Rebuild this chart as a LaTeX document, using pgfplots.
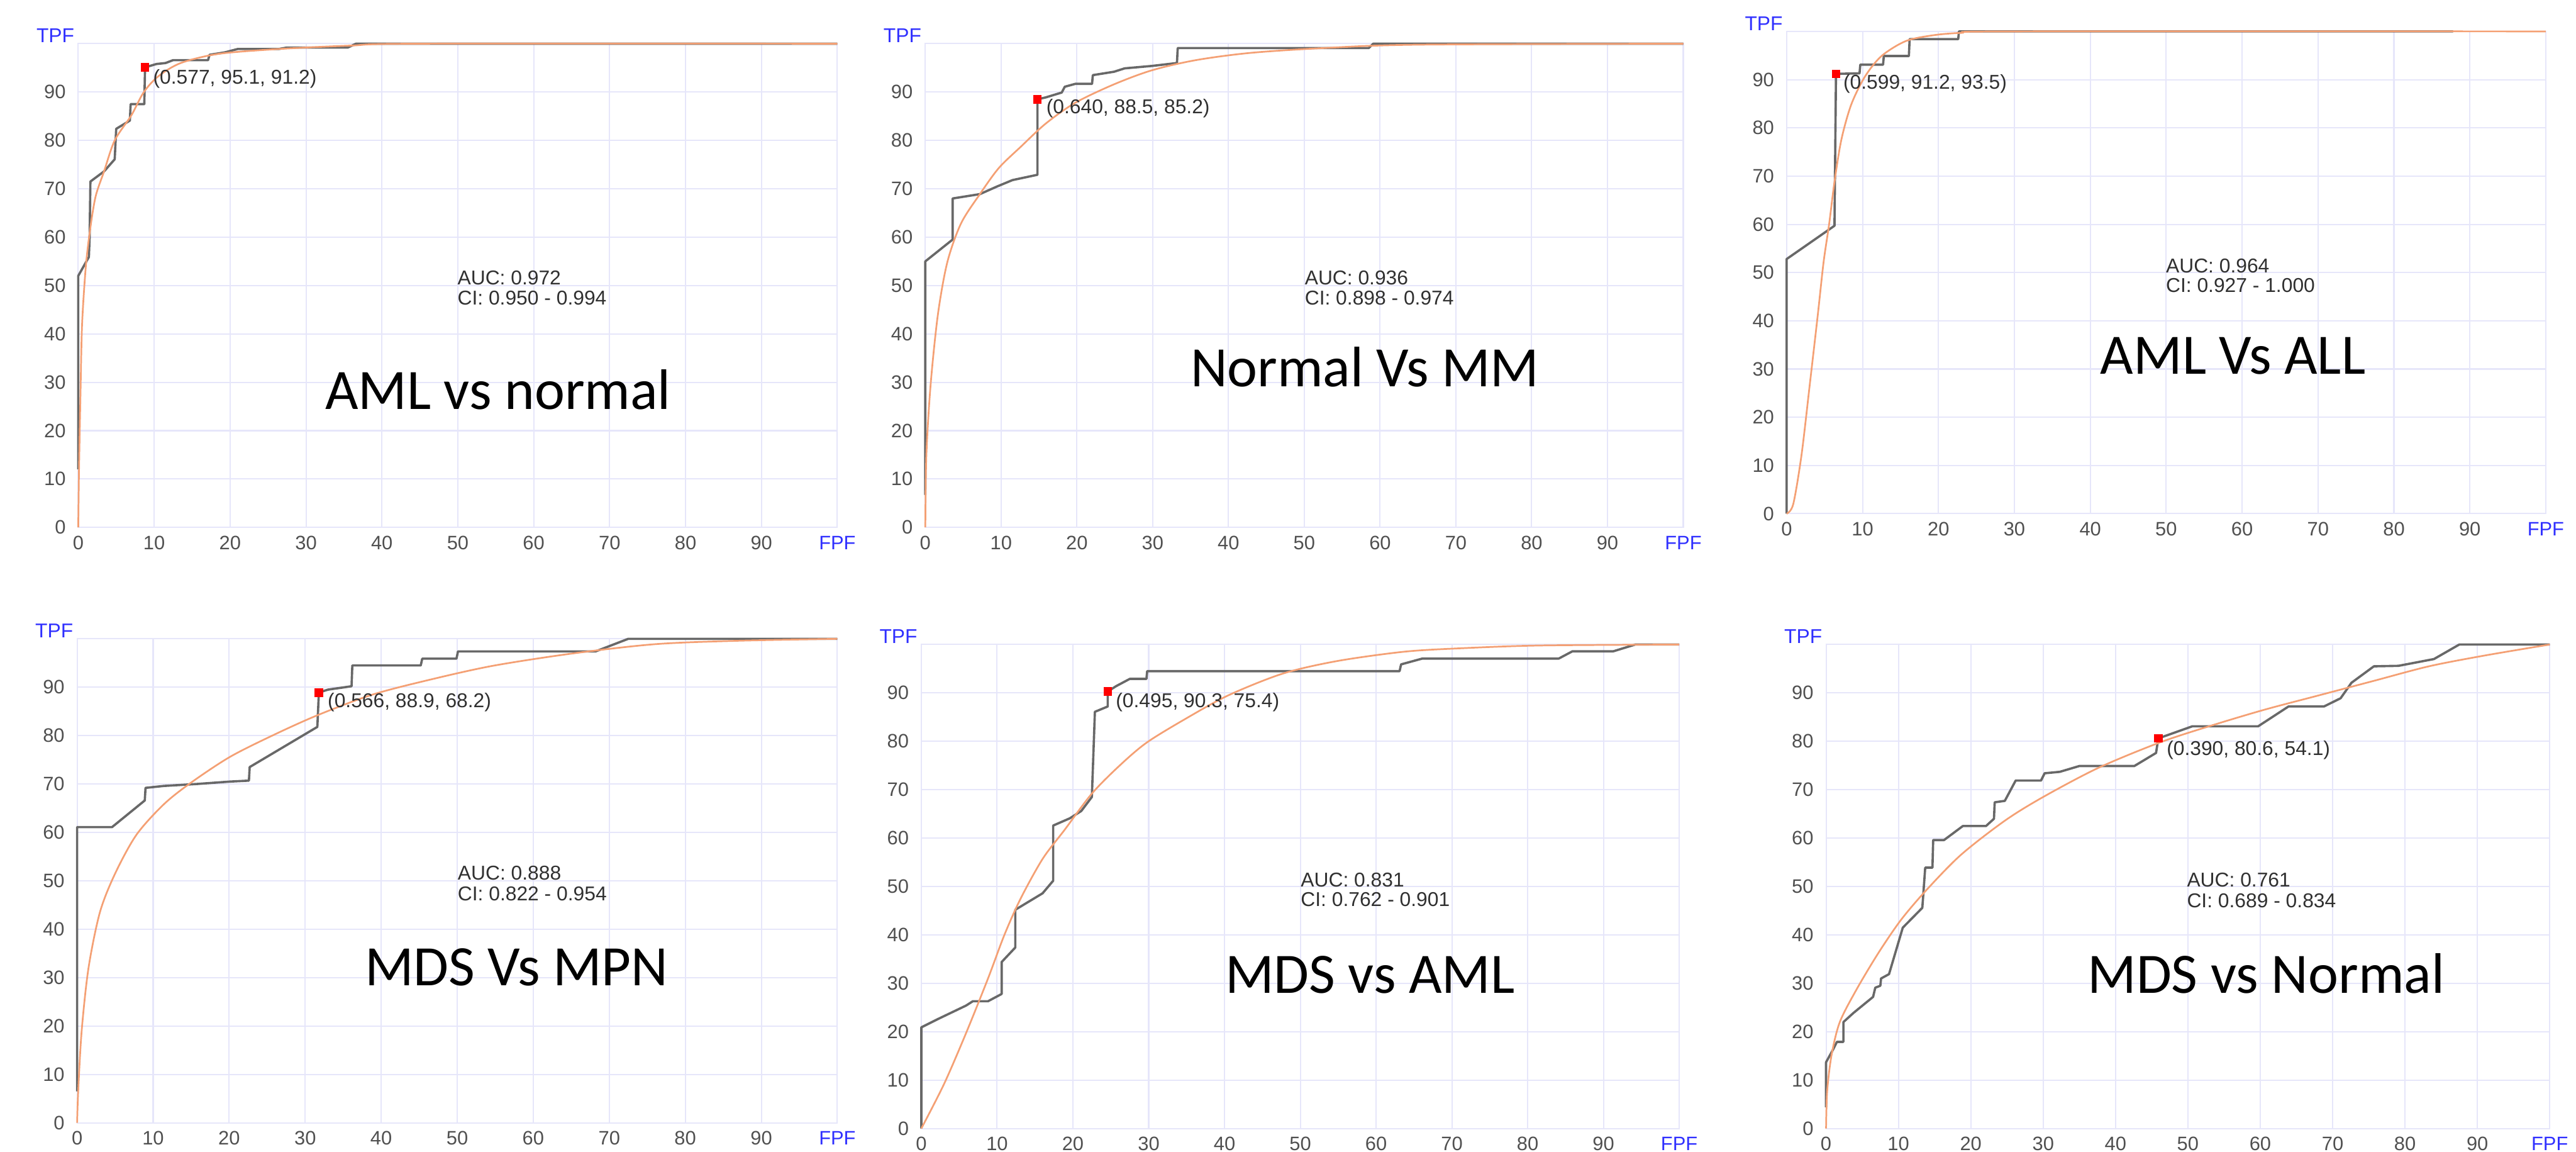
\documentclass[border=0pt]{standalone}
\usepackage{fontspec}
\setmainfont{Liberation Sans}
\newfontfamily\titlefont{Carlito}
\usepackage{pgfplots}
\pgfplotsset{compat=1.18}
\definecolor{gridc}{HTML}{E6E6FA}
\definecolor{rocgray}{HTML}{686868}
\definecolor{fitorange}{HTML}{F4A074}
\definecolor{tickgray}{HTML}{505050}
\definecolor{txtgray}{HTML}{303030}
\definecolor{axblue}{HTML}{3030FF}
\pgfplotsset{
  rocpanel/.style={
    scale only axis, anchor=south west,
    xmin=0, xmax=100, ymin=0, ymax=100,
    xtick={0,10,...,100}, ytick={0,10,...,90},
    xticklabels={0,10,20,30,40,50,60,70,80,90,\textcolor{axblue}{FPF}},
    grid=major, major grid style={draw=gridc, line width=0.45pt},
    axis line style={draw=gridc, line width=0.45pt},
    major tick length=0pt,
    tick label style={font=\fontsize{6.8}{7}\selectfont, text=tickgray, inner sep=0pt},
    xticklabel shift=2.8pt, yticklabel shift=4.2pt,
    /pgf/number format/assume math mode=true,
    clip=false,
  },
  gray roc/.style={rocgray, line width=0.8pt, line join=round},
  fit roc/.style={fitorange, line width=0.6pt, line join=round, smooth, tension=0.5},
  opt pt/.style={only marks, mark=square*, mark size=1.3pt, red, mark options={draw=red, fill=red}},
}
\newcommand{\tpf}{\node[anchor=base east, text=axblue, font=\fontsize{7}{8}\selectfont, inner sep=0pt] at ([xshift=-1.2pt, yshift=0.4pt]rel axis cs:0,1) {TPF};}
\newcommand{\ann}[3]{\node[anchor=west, text=txtgray, font=\fontsize{7}{8}\selectfont, inner sep=0pt] at (axis cs:#1,#2) {#3};}
\newcommand{\ttl}[3]{\node[anchor=base, font=\titlefont\fontsize{20}{24}\selectfont, inner sep=0pt] at (axis cs:#1,#2) {#3};}

\begin{document}
\begin{tikzpicture}
\useasboundingbox (0,0) rectangle (902pt,403.2pt);

% Panel 1: AML vs normal
\begin{axis}[rocpanel, at={(27.4pt,218.6pt)}, width=265.8pt, height=169.3pt]
\addplot[gray roc] coordinates {(0,12) (0,52) (1.4,55.9) (1.5,60) (1.6,71.5) (3.4,73.6) (4.8,76.1) (5.0,82.4) (6.8,84.1) (6.9,87.5) (8.7,87.5) (8.8,95.1) (10.3,95.8) (11.5,96.0) (12.5,96.6) (17.1,96.6) (17.3,97.7) (19.3,98.2) (21.0,98.9) (26.4,98.9) (27.5,99.2) (35.5,99.2) (36.6,100) (100,100)};
\addplot[fit roc] coordinates {(0,0) (0.1,12) (0.29,27.3) (0.5,41.8) (1.0,54) (1.6,62) (2.3,68.5) (3.4,73.6) (4.8,80) (7.0,85.2) (8.6,89.9) (10.5,93.2) (13.5,96.0) (18.5,97.9) (26.4,98.9) (35.8,99.6) (45,100) (100,100)};
\addplot[opt pt] coordinates {(8.8,95.1)};
\tpf
\ann{9.8}{92.8}{(0.577, 95.1, 91.2)}
\ann{49.9}{51.6}{AUC: 0.972}
\ann{49.9}{47.4}{CI: 0.950 - 0.994}
\ttl{55.3}{24.4}{AML vs normal}
\end{axis}

% Panel 2: Normal Vs MM
\begin{axis}[rocpanel, at={(324pt,218.6pt)}, width=265.4pt, height=169.3pt]
\addplot[gray roc] coordinates {(0,6.7) (0,55) (3.6,59.5) (3.6,68) (7.2,68.9) (9.5,70.5) (11.5,71.8) (14.8,72.9) (14.8,88.5) (15.9,88.9) (18,89.9) (18.4,91.1) (19.8,91.7) (22,91.7) (22.1,93.5) (24.9,94.2) (26.3,94.9) (29.9,95.4) (33.2,96) (33.3,99.1) (58.5,99.1) (59.1,100) (100,100)};
\addplot[fit roc] coordinates {(0,0) (0.14,15) (0.7,29.5) (1.66,44) (2.9,54.8) (4.7,62.8) (7.2,68.9) (9.7,74.3) (12.6,78.7) (15.9,83.5) (19.8,87.8) (24.9,91.6) (29.9,94.5) (35.7,96.6) (42.9,98.1) (52.6,99.1) (65.2,99.8) (100,100)};
\addplot[opt pt] coordinates {(14.8,88.5)};
\tpf
\ann{15.9}{86.6}{(0.640, 88.5, 85.2)}
\ann{50}{51.6}{AUC: 0.936}
\ann{50}{47.4}{CI: 0.898 - 0.974}
\ttl{58}{29.1}{Normal Vs MM}
\end{axis}

% Panel 3: AML Vs ALL
\begin{axis}[rocpanel, at={(625.6pt,223.4pt)}, width=265.8pt, height=168.8pt]
\addplot[gray roc] coordinates {(0,0) (0,52.8) (6.3,59.7) (6.5,91.2) (9.6,91.3) (9.7,93.1) (12.7,93.1) (12.8,94.9) (16.1,94.9) (16.2,98.4) (22.6,98.4) (22.7,100) (87.8,100)};
\addplot[fit roc] coordinates {(0,0) (0.87,2) (1.96,12.2) (3.04,26.7) (4.1,41.2) (4.86,52.1) (5.6,60.1) (6.3,68.8) (7.2,77.5) (8.5,84.8) (10.3,90.6) (12.5,94.9) (15.7,98.0) (19.3,99.2) (23,99.7) (30,100) (100,100)};
\addplot[opt pt] coordinates {(6.5,91.2)};
\tpf
\ann{7.4}{89.1}{(0.599, 91.2, 93.5)}
\ann{49.9}{51.4}{AUC: 0.964}
\ann{49.9}{47.4}{CI: 0.927 - 1.000}
\ttl{58.8}{28.9}{AML Vs ALL}
\end{axis}

% Panel 4: MDS Vs MPN
\begin{axis}[rocpanel, at={(27pt,10.2pt)}, width=266.2pt, height=169.4pt]
\addplot[gray roc] coordinates {(0,6.5) (0,61.1) (4.6,61.1) (8.9,66.6) (9.0,69.2) (11.4,69.6) (15.7,70) (20.1,70.5) (22.6,70.7) (22.7,73.5) (31.6,81.8) (31.8,88.9) (33,89.5) (36.1,90.2) (36.2,94.5) (45.2,94.5) (45.4,95.9) (49.9,95.9) (50.1,97.4) (68.2,97.4) (72.5,100) (100,100)};
\addplot[fit roc] coordinates {(0,0) (0.14,6.5) (0.6,19) (1.5,32) (3.0,43.5) (5,51.5) (7.8,59.5) (11.4,65.8) (15,70.3) (20.1,75.6) (25.8,80.1) (31.6,84.2) (38.7,88.4) (46,91.4) (54.6,94.4) (65.3,97) (76.1,98.9) (86.9,99.6) (100,100)};
\addplot[opt pt] coordinates {(31.8,88.9)};
\tpf
\ann{32.9}{86.9}{(0.566, 88.9, 68.2)}
\ann{50}{51.6}{AUC: 0.888}
\ann{50}{47.3}{CI: 0.822 - 0.954}
\ttl{57.8}{28.3}{MDS Vs MPN}
\end{axis}

% Panel 5: MDS vs AML
\begin{axis}[rocpanel, at={(322.6pt,8.2pt)}, width=265.4pt, height=169.4pt]
\addplot[gray roc] coordinates {(0,0) (0,20.9) (2.3,22.7) (5.9,25.4) (6.8,26.3) (8.8,26.3) (10.6,27.8) (10.6,34.4) (12.4,37.4) (12.4,45.2) (16,48.6) (17.4,51.2) (17.4,62.6) (19.6,64.1) (21.1,65.6) (22.5,68.5) (22.9,86.1) (24.6,87.2) (24.6,90.3) (25.7,91.4) (27.5,92.9) (29.7,92.9) (29.8,94.5) (63.1,94.5) (63.3,95.9) (66.1,97.1) (84.1,97.1) (85.9,98.6) (91.3,98.6) (94.2,100) (100,100)};
\addplot[fit roc] coordinates {(0,0) (3,9.2) (5.9,19.7) (8.8,31) (10.96,40) (13.1,47.5) (16,55.7) (18.9,61.7) (22.5,69.2) (26.1,74.9) (29.7,79.7) (34.8,84.6) (40.5,89.5) (47.7,94) (54.9,96.6) (63.6,98.5) (70.8,99.2) (81.6,99.8) (100,100)};
\addplot[opt pt] coordinates {(24.6,90.3)};
\tpf
\ann{25.6}{88.1}{(0.495, 90.3, 75.4)}
\ann{50}{51.4}{AUC: 0.831}
\ann{50}{47.3}{CI: 0.762 - 0.901}
\ttl{59.2}{28}{MDS vs AML}
\end{axis}

% Panel 6: MDS vs Normal
\begin{axis}[rocpanel, at={(639.4pt,8.2pt)}, width=253.4pt, height=169.4pt]
\addplot[gray roc] coordinates {(0,4.4) (0,13.7) (1,16.4) (1.5,17.9) (2.4,17.9) (2.4,22) (3.8,23.9) (6.5,27.2) (6.8,29.1) (7.5,29.5) (7.6,31) (8.7,31.9) (10.6,41.5) (13.3,45.6) (13.7,53.9) (14.7,53.9) (14.8,59.6) (16.3,59.6) (18.9,62.5) (22.1,62.5) (23.2,64) (23.3,67.4) (24.7,67.7) (26.2,71.9) (29.7,71.9) (30.2,73.4) (32.3,73.7) (35,74.9) (42.6,74.9) (45.6,77.6) (45.9,80.6) (50.6,83.1) (59.7,83.1) (63.9,87.2) (68.8,87.2) (71.1,88.9) (72.6,92.1) (75.7,95.5) (79.1,95.6) (84,97) (87.5,100) (100,100)};
\addplot[fit roc] coordinates {(0,0) (0.15,7.7) (0.76,15.2) (1.9,22) (4.2,28.7) (7.2,36.2) (10.3,43) (13.7,49) (18.6,56.5) (24.7,63.6) (30,68.5) (37.6,74.5) (46,79.7) (52.9,83.1) (60.5,86.5) (68.1,89.5) (75.7,92.5) (83.3,95.5) (90.9,97.7) (100,100)};
\addplot[opt pt] coordinates {(45.9,80.6)};
\tpf
\ann{47}{78.2}{(0.390, 80.6, 54.1)}
\ann{49.8}{51.4}{AUC: 0.761}
\ann{49.8}{47.1}{CI: 0.689 - 0.834}
\ttl{60.8}{28}{MDS vs Normal}
\end{axis}
\end{tikzpicture}
\end{document}
